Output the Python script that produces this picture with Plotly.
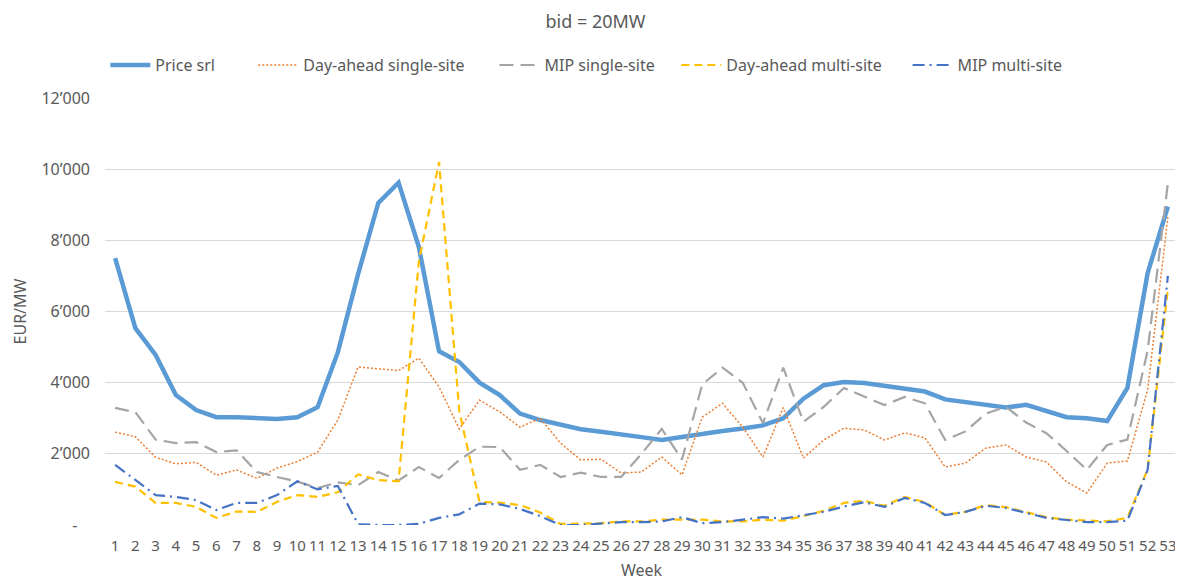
import plotly.graph_objects as go

# weekly values, EUR/MW
weeks = list(range(1, 54))

price_srl = [7500, 5530, 4780, 3650, 3230, 3030, 3030, 3000, 2980, 3030,
             3310, 4850, 7050, 9050, 9620, 7820, 4880, 4580, 4000, 3650,
             3130, 2950, 2810, 2690, 2620, 2560, 2470, 2390, 2480, 2570,
             2640, 2710, 2800, 3000, 3550, 3930, 4020, 3990, 3920, 3820,
             3750, 3530, 3450, 3370, 3300, 3380, 3220, 3030, 3000, 2920,
             3850, 7080, 8950]

da_single = [2610, 2480, 1900, 1720, 1760, 1400, 1550, 1310, 1600, 1780,
             2050, 2950, 4440, 4400, 4340, 4690, 3880, 2700, 3510, 3180,
             2750, 3000, 2300, 1830, 1850, 1460, 1490, 1910, 1410, 3030,
             3420, 2750, 1910, 3300, 1880, 2390, 2720, 2670, 2390, 2590,
             2450, 1630, 1740, 2160, 2250, 1910, 1770, 1210, 900, 1740,
             1800, 3800, 8650]

mip_single = [3290, 3170, 2400, 2300, 2330, 2050, 2100, 1490, 1350, 1220,
              1040, 1200, 1120, 1490, 1250, 1630, 1320, 1830, 2200, 2190,
              1550, 1690, 1350, 1470, 1350, 1350, 2000, 2700, 1840, 3950,
              4420, 4000, 2860, 4420, 2900, 3320, 3850, 3620, 3370, 3600,
              3420, 2390, 2630, 3130, 3320, 2880, 2580, 2080, 1550, 2250,
              2400, 4900, 9600]

da_multi = [1210, 1080, 620, 620, 510, 200, 380, 370, 650, 840,
            790, 920, 1420, 1260, 1230, 7400, 10200, 3200, 650, 630,
            560, 350, 30, 30, 50, 100, 100, 150, 150, 150,
            100, 100, 150, 120, 250, 400, 620, 680, 540, 790,
            640, 280, 370, 560, 500, 360, 220, 150, 120, 100,
            200, 1560, 6650]

mip_multi = [1690, 1260, 840, 790, 700, 420, 620, 620, 840, 1230,
             1000, 1100, 20, 0, 0, 30, 200, 300, 600, 580,
             450, 250, 0, 0, 30, 80, 80, 100, 220, 50,
             80, 150, 220, 180, 280, 370, 520, 640, 510, 760,
             620, 280, 370, 540, 480, 340, 200, 140, 80, 80,
             120, 1550, 7000]

y_ticks = [0, 2000, 4000, 6000, 8000, 10000, 12000]
y_ticktext = ["-\u00a0\u00a0\u00a0", "2\u2019000", "4\u2019000", "6\u2019000",
              "8\u2019000", "10\u2019000", "12\u2019000"]

FONT = "Noto Sans"
TXT = "#595959"

# (name, values, line style, trailing nbsp count for legend spacing)
series = [
    ("Price srl", price_srl, dict(color="#5b9bd5", width=4.5), 8),
    ("Day-ahead single-site", da_single,
     dict(color="#ed7d31", width=1.5, dash="2px,2px"), 6),
    ("MIP single-site", mip_single,
     dict(color="#a5a5a5", width=2.2, dash="14px,7px"), 4),
    ("Day-ahead multi-site", da_multi,
     dict(color="#ffc000", width=2.2, dash="8px,5px"), 5),
    ("MIP multi-site", mip_multi,
     dict(color="#4472c4", width=2.2, dash="12px,5px,2px,5px"), 0),
]

fig = go.Figure()
for name, vals, line, pad in series:
    fig.add_trace(go.Scatter(x=weeks, y=vals, mode="lines",
                             name=name + "\u00a0" * pad, line=line))

fig.update_xaxes(
    range=[0.5, 53.5], tickmode="array", tickvals=weeks,
    ticktext=[str(w) for w in weeks], tickangle=0, showgrid=False,
    zeroline=False, showline=False, ticks="", ticklabelstandoff=10,
    tickfont=dict(size=15, color=TXT),
    title=dict(text="Week", font=dict(size=16, color=TXT), standoff=11),
)
fig.update_yaxes(
    range=[0, 12000], tickmode="array", tickvals=y_ticks, ticktext=y_ticktext,
    showgrid=True, gridcolor="#d9d9d9", gridwidth=1, zeroline=False,
    showline=False, ticks="", ticklabelstandoff=14,
    tickfont=dict(size=16, color=TXT),
    title=dict(text="EUR/MW", font=dict(size=16, color=TXT), standoff=10),
)
fig.update_layout(
    width=1175, height=573,
    margin=dict(l=97, r=5, t=90, b=56),
    paper_bgcolor="white", plot_bgcolor="white",
    font=dict(family=FONT, color=TXT),
    title=dict(text="bid = 20MW", x=0.5, xanchor="center",
               y=1 - 14 / 573, yanchor="middle",
               font=dict(size=18, color=TXT)),
    legend=dict(orientation="h", x=0.0003, xanchor="left", y=1.077,
                yanchor="middle", font=dict(size=16, color=TXT),
                itemwidth=40, tracegroupgap=0),
    showlegend=True,
)

fig.write_html("out.html")
